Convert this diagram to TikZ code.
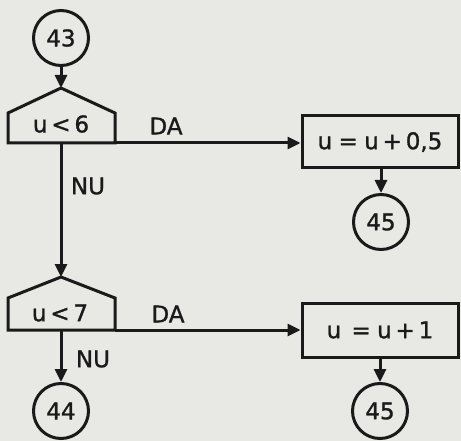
\documentclass[tikz,border=0pt]{standalone}
\usepackage{fontspec}
\setmainfont[FakeBold=1.2]{DejaVu Sans}
\usetikzlibrary{arrows.meta}
\definecolor{paper}{HTML}{E8E8E5}
\definecolor{ink}{HTML}{1A1A1A}
\begin{document}
\begin{tikzpicture}[x=1pt,y=-1pt,
  line width=3pt, draw=ink,
  conn/.style={circle,draw=ink,line width=3pt,minimum size=55pt,inner sep=0pt,font=\fontsize{23}{23}\selectfont,text=ink},
  procbox/.style={rectangle,draw=ink,line width=3pt,minimum width=156pt,minimum height=52pt,inner sep=0pt,font=\fontsize{23}{23}\selectfont,text=ink},
  lbl/.style={font=\fontsize{23}{23}\selectfont,text=ink,inner sep=0pt},
  arr/.style={-{Triangle[length=13pt,width=12pt]},draw=ink,line width=3pt},
  ln/.style={draw=ink,line width=3pt}]
\fill[paper] (0,0) rectangle (461,441);
\useasboundingbox (0,0) rectangle (461,441);
% decision 1
\coordinate (d1apex) at (61,88);
\coordinate (d1tl) at (8,113);
\coordinate (d1tr) at (115,113);
\coordinate (d1bl) at (8,143);
\coordinate (d1br) at (115,143);
\coordinate (d1bot) at (61,143);
\draw[ln,line join=miter] (d1bl) -- (d1tl) -- (d1apex) -- (d1tr) -- (d1br) -- cycle;
\node[lbl] (t1) at (61,124) {u\,<\,6};
% decision 2
\coordinate (d2apex) at (61,277);
\coordinate (d2tl) at (8,298);
\coordinate (d2tr) at (115,298);
\coordinate (d2bl) at (8,330);
\coordinate (d2br) at (115,330);
\coordinate (d2bot) at (61,330);
\draw[ln,line join=miter] (d2bl) -- (d2tl) -- (d2apex) -- (d2tr) -- (d2br) -- cycle;
\node[lbl] (t2) at (60,313) {u\,<\,7};
% connectors / boxes
\node[conn] (c43) at (61,38) {43};
\node[procbox] (b1) at (380,142) {u\;=\;u\,+\,0,5};
\node[conn] (c45a) at (381,222) {45};
\node[procbox,minimum height=54pt] (b2) at (380,330) {u\;\,=\;u\,+\,1};
\node[conn] (c45b) at (380,411) {45};
\node[conn] (c44) at (61,411) {44};
% labels
\node[lbl] (da1) at (166,126) {DA};
\node[lbl] (nu1) at (88,186) {NU};
\node[lbl] (da2) at (168,314) {DA};
\node[lbl] (nu2) at (93,359) {NU};
% edges
\draw[arr] (c43) -- (d1apex);
\draw[arr] (d1br) -- (b1.west |- d1br);
\draw[arr] (b1.south -| c45a) -- (c45a);
\draw[arr] (d1bot) -- (d2apex);
\draw[arr] (d2br) -- (b2.west |- d2br);
\draw[arr] (b2.south -| c45b) -- (c45b);
\draw[arr] (d2bot) -- (c44);
\end{tikzpicture}
\end{document}
